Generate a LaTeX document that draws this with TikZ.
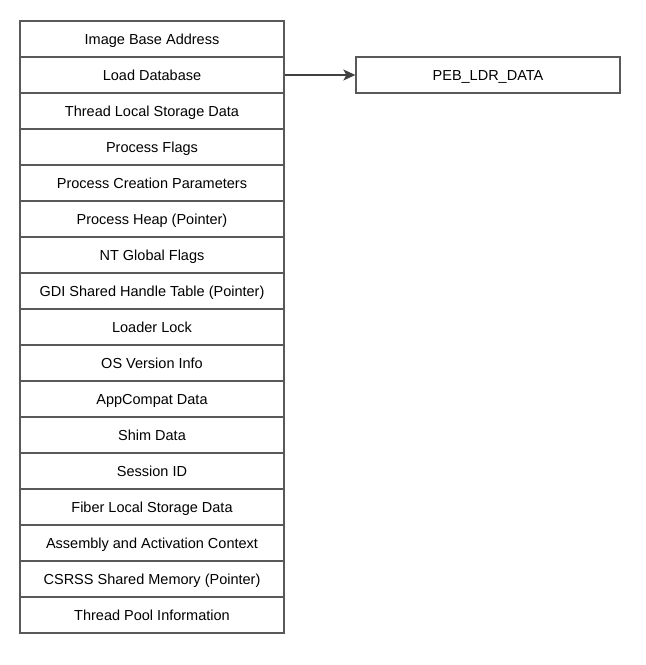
\documentclass[tikz,border=0pt]{standalone}
\usepackage{fontspec}
\setmainfont{Liberation Sans}
\usetikzlibrary{positioning}
\usetikzlibrary{arrows.meta}
\tikzset{
    cell/.style = {rectangle, line width=1.3pt, draw=black!65, minimum width=264pt, minimum height=36pt, inner sep=0pt, fill=white, text height=11.3pt, text depth=0pt, font=\fontsize{14.5}{16}\selectfont},
    edgen/.style = {-{Stealth[length=12pt,width=11pt,inset=3pt]}, line width=1.3pt, draw=black!75},
}
\begin{document}
\begin{tikzpicture}[x=1pt,y=-1pt]
\path[use as bounding box] (0,0) rectangle (646,665);
%
\node[cell] at (152, 39) (base) {Image Base Address};
\node[cell] at (152, 75) (ldr) {Load Database};
\node[cell] at (152, 111) (tls) {Thread Local Storage Data};
\node[cell] at (152, 147) (flags) {Process Flags};
\node[cell] at (152, 183) (params) {Process Creation Parameters};
\node[cell] at (152, 219) (heap) {Process Heap (Pointer)};
\node[cell] at (152, 255) (ntflags) {NT Global Flags};
\node[cell] at (152, 291) (gdi) {GDI Shared Handle Table (Pointer)};
\node[cell] at (152, 327) (lock) {Loader Lock};
\node[cell] at (152, 363) (osver) {OS Version Info};
\node[cell] at (152, 399) (appcompat) {AppCompat Data};
\node[cell] at (152, 435) (shim) {Shim Data};
\node[cell] at (152, 471) (session) {Session ID};
\node[cell] at (152, 507) (fls) {Fiber Local Storage Data};
\node[cell] at (152, 543) (actctx) {Assembly and Activation Context};
\node[cell] at (152, 579) (csrss) {CSRSS Shared Memory (Pointer)};
\node[cell] at (152, 615) (pool) {Thread Pool Information};
%
\node[cell] at (488, 75) (pebldr) {PEB\_LDR\_DATA};
%
\draw[edgen] (ldr) -- (pebldr);

\end{tikzpicture}
\end{document}
